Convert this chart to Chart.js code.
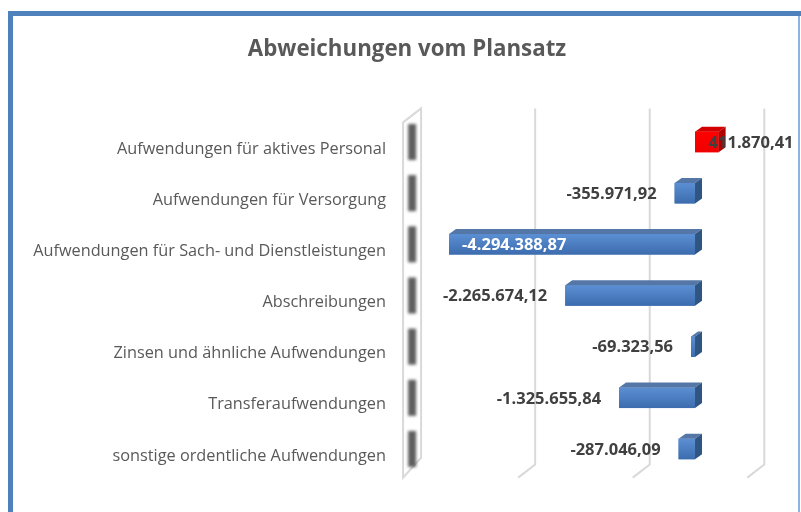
<!DOCTYPE html>
<html>
<head>
<meta charset="utf-8">
<script src="https://cdn.jsdelivr.net/npm/chart.js@4.4.0/dist/chart.umd.min.js"></script>
<style>
  html, body { margin: 0; padding: 0; background: #fff; overflow: hidden; }
  #wrap { position: relative; width: 801px; height: 512px; }
</style>
</head>
<body>
<div id="wrap"><canvas id="myChart" width="801" height="512"></canvas></div>
<script>
// Chart data.
const categories = [
  "Aufwendungen für aktives Personal",
  "Aufwendungen für Versorgung",
  "Aufwendungen für Sach- und Dienstleistungen",
  "Abschreibungen",
  "Zinsen und ähnliche Aufwendungen",
  "Transferaufwendungen",
  "sonstige ordentliche Aufwendungen"
];
const deviations = [411870.41, -355971.92, -4294388.87, -2265674.12, -69323.56, -1325655.84, -287046.09];
const gridValues = [-3000000, -1000000, 1000000];
const axisMin = -5000000;
const axisMax = 1000000;
const chartTitle = "Abweichungen vom Plansatz";

// German number format, e.g. -4.294.388,87
function formatDe(v) {
  const neg = v < 0;
  const parts = Math.abs(v).toFixed(2).split(".");
  const int = parts[0].replace(/\B(?=(\d{3})+(?!\d))/g, ".");
  return (neg ? "-" : "") + int + "," + parts[1];
}

const FONT = "'Open Sans', 'Noto Sans', sans-serif";
const DX = 7, DY = 5; // depth of the bars

const decor = {
  id: "decor",
  beforeDraw(chart) {
    const ctx = chart.ctx;
    ctx.save();
    ctx.fillStyle = "#ffffff";
    ctx.fillRect(0, 0, chart.width, chart.height);
    // chart frame
    ctx.fillStyle = "#4f81bd";
    ctx.fillRect(8, 11, chart.width - 8, 5);
    ctx.fillRect(8, 11, 5, chart.height - 11);
    ctx.fillStyle = "#8db3e2";
    ctx.fillRect(798, 16, 2, chart.height - 16);
    // title, centred inside the frame
    ctx.fillStyle = "#595959";
    ctx.font = "bold 22.3px " + FONT;
    ctx.textAlign = "center";
    ctx.textBaseline = "middle";
    ctx.fillText(chartTitle, 407, 50);
    ctx.restore();
  },
  beforeDatasetsDraw(chart) {
    const ctx = chart.ctx;
    const a = chart.chartArea;
    const xs = chart.scales.x;
    const ys = chart.scales.y;
    ctx.save();
    ctx.strokeStyle = "#d9d9d9";
    ctx.lineWidth = 2;
    // gridlines on the back wall and floor
    gridValues.forEach(v => {
      const px = xs.getPixelForValue(v);
      ctx.beginPath();
      ctx.moveTo(px + 12, a.top - 8);
      ctx.lineTo(px + 12, a.bottom - 10);
      ctx.lineTo(px - 5, a.bottom + 3);
      ctx.stroke();
    });
    // side wall
    const wx = xs.getPixelForValue(axisMin);
    ctx.beginPath();
    ctx.moveTo(wx - 5.5, a.top + 6);
    ctx.lineTo(wx + 12.5, a.top - 8);
    ctx.lineTo(wx + 12.5, a.bottom - 17);
    ctx.lineTo(wx - 5.5, a.bottom + 3);
    ctx.closePath();
    ctx.stroke();
    // shading on the wall at each category
    ctx.filter = "blur(1.8px)";
    ctx.fillStyle = "#5f5f5f";
    categories.forEach((c, i) => {
      const py = ys.getPixelForValue(i);
      ctx.fillRect(wx - 0.5, py - 18, 8, 36);
    });
    ctx.filter = "none";
    ctx.restore();
  },
  afterDatasetsDraw(chart) {
    const ctx = chart.ctx;
    const meta = chart.getDatasetMeta(0);
    ctx.save();
    meta.data.forEach((bar, i) => {
      const v = deviations[i];
      const p = bar.getProps(["x", "y", "base", "height"], true);
      const left = Math.min(p.x, p.base);
      const right = Math.max(p.x, p.base);
      const top = p.y - p.height / 2;
      const bottom = p.y + p.height / 2;
      const pos = v > 0;
      // front face shading
      const g = ctx.createLinearGradient(0, top, 0, bottom);
      if (pos) {
        g.addColorStop(0, "#ff0000");
        g.addColorStop(1, "#f00000");
      } else {
        g.addColorStop(0, "#5b8fd3");
        g.addColorStop(1, "#3c6cae");
      }
      ctx.fillStyle = g;
      ctx.fillRect(left, top, right - left, bottom - top);
      // top face
      ctx.fillStyle = pos ? "#d40000" : "#5577a8";
      ctx.beginPath();
      ctx.moveTo(left, top);
      ctx.lineTo(left + DX, top - DY);
      ctx.lineTo(right + DX, top - DY);
      ctx.lineTo(right, top);
      ctx.closePath();
      ctx.fill();
      // side face
      ctx.fillStyle = pos ? "#b00000" : "#2f5583";
      ctx.beginPath();
      ctx.moveTo(right, top);
      ctx.lineTo(right + DX, top - DY);
      ctx.lineTo(right + DX, bottom - DY);
      ctx.lineTo(right, bottom);
      ctx.closePath();
      ctx.fill();
    });
    // value labels
    ctx.font = "bold 16.5px " + FONT;
    ctx.textBaseline = "middle";
    meta.data.forEach((bar, i) => {
      const v = deviations[i];
      const p = bar.getProps(["x", "y"], true);
      const txt = formatDe(v);
      if (v > 0) {
        ctx.fillStyle = "#404040";
        ctx.textAlign = "left";
        ctx.fillText(txt, p.x - 10, p.y + 1);
      } else if (v < -4000000) {
        ctx.fillStyle = "#ffffff";
        ctx.textAlign = "left";
        ctx.fillText(txt, p.x + 13, p.y + 1);
      } else {
        ctx.fillStyle = "#404040";
        ctx.textAlign = "right";
        ctx.fillText(txt, p.x - 18, p.y + 1);
      }
    });
    ctx.restore();
  }
};

const config = {
  type: "bar",
  data: {
    labels: categories,
    datasets: [
      {
        label: "Abweichung",
        data: deviations,
        backgroundColor: ctx => (ctx.raw > 0 ? "#ff0000" : "#4a7dbb"),
        borderWidth: 0,
        categoryPercentage: 1,
        barPercentage: 0.4,
      },
    ],
  },
  options: {
    indexAxis: "y",
    responsive: false,
    animation: false,
    layout: {
      padding: { top: 116.4, left: 16, right: 48.7, bottom: 37.4 },
    },
    scales: {
      x: {
        display: false,
        min: axisMin,
        max: axisMax,
      },
      y: {
        grid: { display: false, drawTicks: false },
        border: { display: false },
        ticks: {
          color: "#595959",
          font: { family: FONT, size: 16.3 },
          padding: 22.6,
          labelOffset: 7,
          autoSkip: false,
        },
        afterFit(scale) {
          scale.width = 392.6;
        },
      },
    },
    plugins: {
      legend: { display: false },
      tooltip: { enabled: false },
      title: { display: false },
    },
  },
  plugins: [decor],
};

// Graph.
let myChart = new Chart(document.getElementById("myChart"), config);
</script>
</body>
</html>
